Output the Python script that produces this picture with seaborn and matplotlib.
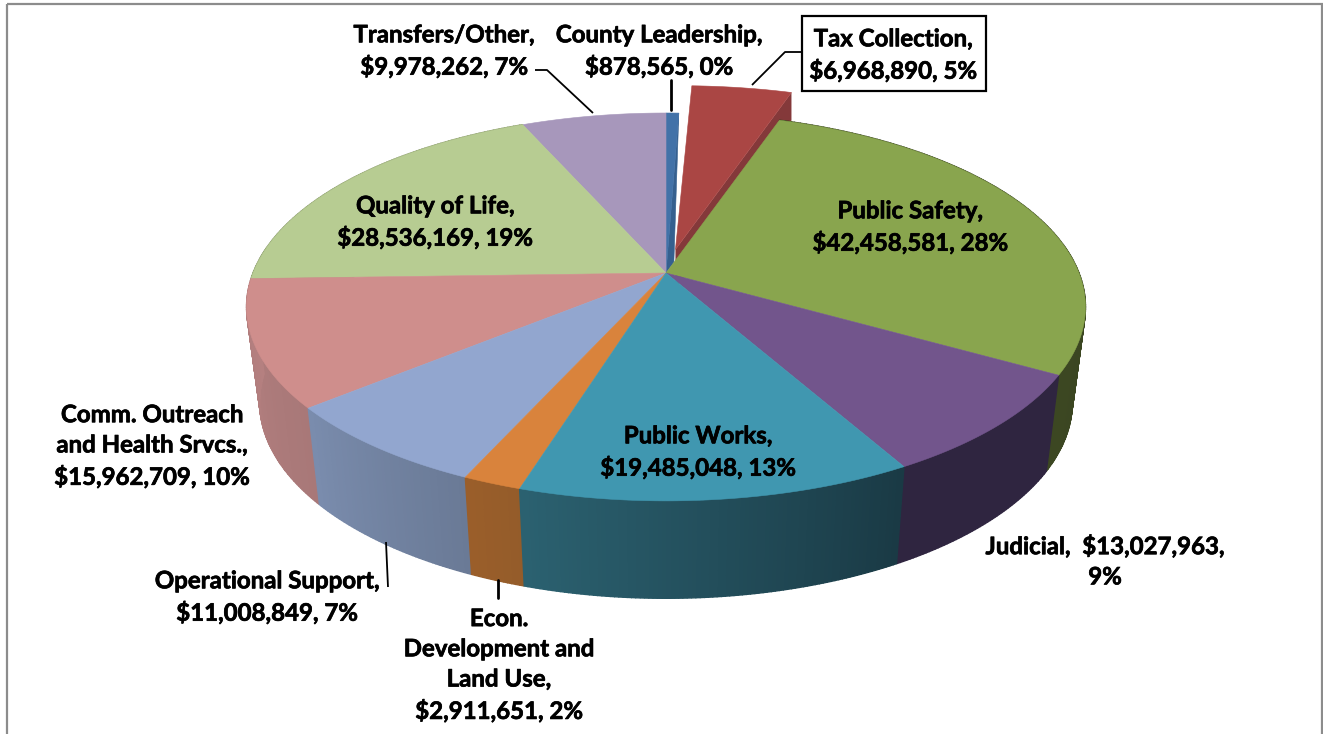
import numpy as np
import matplotlib
matplotlib.use("Agg")
import matplotlib.pyplot as plt
import matplotlib.patheffects as pe
import seaborn as sns
from matplotlib.patches import Rectangle

# slices, clockwise from 12 o'clock
categories = ["County Leadership", "Tax Collection", "Public Safety", "Judicial", "Public Works",
              "Econ. Development and Land Use", "Operational Support",
              "Comm. Outreach and Health Srvcs.", "Quality of Life", "Transfers/Other"]
values = [878565, 6968890, 42458581, 13027963, 19485048, 2911651, 11008849, 15962709, 28536169, 9978262]
percents = [0, 5, 28, 9, 13, 2, 7, 10, 19, 7]

top_colors = ["#4272a8", "#aa4644", "#89a54e", "#72558c", "#4097b0",
              "#d9833c", "#92a6cf", "#cf8e8c", "#b7cc92", "#a797bb"]
wall_left = ["#35608f", "#84393a", "#3c4722", "#2f2540", "#2b6170",
             "#9a5e2a", "#7a8cad", "#b58080", "#8a9a6c", "#7d7190"]
wall_right = ["#35608f", "#84393a", "#353f1d", "#2f2540", "#1a3a45",
              "#945c2a", "#6a7a96", "#a87878", "#8a9a6c", "#7d7190"]

sns.set_theme(style="white")
plt.rcParams["font.family"] = ["Lato", "DejaVu Sans"]

# fake perspective for the pie
cx, cy_top, cy_bot = 666, 273, 368
a_top, a_bot = 413, 400
b_top, b_bot = 188, 190
persp = 0.175
exploded = 1


def project(t, r, off, off_t, a, b, cy):
    X = r * np.sin(t) + off * np.sin(off_t)
    Y = r * np.cos(t) + off * np.cos(off_t)
    d = 1 + persp * Y
    return cx + a * X / d, cy - b * Y / d


fig = plt.figure(figsize=(13.23, 7.34), dpi=100)
ax = fig.add_axes([0, 0, 1, 1])
ax.set_xlim(0, 1323)
ax.set_ylim(734, 0)
ax.axis("off")

ax.add_patch(Rectangle((7, 4), 1315, 760, fill=False, ec="#8c8c8c", lw=1.6, zorder=0))

edges = np.radians(np.cumsum([0] + values) / sum(values) * 360)


def draw_walls(i):
    t0, t1 = edges[i], edges[i + 1]
    ts = np.linspace(t0, t1, max(int(np.degrees(t1 - t0) * 2), 2) + 1)
    c0 = np.array(matplotlib.colors.to_rgb(wall_left[i]))
    c1 = np.array(matplotlib.colors.to_rgb(wall_right[i]))
    for k in range(len(ts) - 1):
        x1, y1 = project(ts[k], 1, 0, 0, a_top, b_top, cy_top)
        x2, y2 = project(ts[k + 1], 1, 0, 0, a_top, b_top, cy_top)
        x3, y3 = project(ts[k + 1], 1, 0, 0, a_bot, b_bot, cy_bot)
        x4, y4 = project(ts[k], 1, 0, 0, a_bot, b_bot, cy_bot)
        # t runs right to left along the front
        f = 1 - k / max(len(ts) - 2, 1)
        col = c0 + (c1 - c0) * f
        ax.fill([x1, x2, x3, x4], [y1, y2, y3, y4], color=col, lw=1.0, ec=col)


def draw_top(i):
    ts = np.linspace(edges[i], edges[i + 1], 120)
    xs, ys = project(ts, 1, 0, 0, a_top, b_top, cy_top)
    ax.fill(np.r_[cx, xs], np.r_[cy_top, ys], color=top_colors[i], lw=0.4, ec=top_colors[i])


def draw_exploded(i):
    t0, t1 = edges[i], edges[i + 1]
    mid = (t0 + t1) / 2
    # rim moves further than the tip, the tip stays close to the centre
    xa, ya = project(t1, 0, 0.13, mid, a_top, b_top, cy_top)
    xb, yb = project(t1, 1, 0.21, mid, a_top + 8, b_top, cy_top)
    xc, yc = project(t1, 1, 0.21, mid, a_top + 8, b_top, cy_top + 28)
    ax.fill([xa, xb, xc, xa], [ya, yb, yc, ya + 40], color=wall_left[i], lw=0)
    ts = np.linspace(t0, t1, 60)
    xs, ys = project(ts, 1, 0.21, mid, a_top + 8, b_top, cy_top)
    ax.fill(np.r_[xa, xs], np.r_[ya, ys], color=top_colors[i], lw=0.4, ec=top_colors[i])


def draw_cut_edge(i):
    # darker sliver along the open side of the slice next to the gap
    t1 = edges[i + 1]
    xb, yb = project(t1, 1, 0, 0, a_top, b_top, cy_top)
    xc, yc = project(t1, 0, 0.06, edges[i + 2], a_top, b_top, cy_top)
    ax.fill([cx, xb, xc], [cy_top, yb, yc], color=wall_left[i], lw=0.4, ec=wall_left[i])


order = [0, 9, 8, 2, 3, 7, 6, 5, 4]
draw_exploded(exploded)
for i in order[2:]:
    draw_walls(i)
draw_cut_edge(0)
for i in order:
    draw_top(i)

# labels
font = dict(fontsize=17.3, fontweight="bold", color="black", ha="center", va="center", linespacing=1.38,
            path_effects=[pe.withStroke(linewidth=0.5, foreground="black")])


def money(i):
    return f"${values[i]:,}, {percents[i]}%"


ax.text(444, 51, "Transfers/Other,\n" + money(9), **font)
ax.text(659, 51, "County Leadership,\n" + money(0), **font)
ax.text(893, 55, "Tax Collection,\n" + money(1), **font)
ax.add_patch(Rectangle((802, 16), 184, 75, fill=False, ec="black", lw=1.6, zorder=5))
ax.text(910, 227, "Public Safety,\n" + money(2), **font)
ax.text(435, 222, "Quality of Life,\n" + money(8), **font)
ax.text(152, 446, "Comm. Outreach\nand Health Srvcs.,\n" + money(7), **font)
ax.text(267, 597, "Operational Support,\n" + money(6), **font)
ax.text(499, 665, "Econ.\nDevelopment and\nLand Use,\n" + money(5), **font)
ax.text(698, 452, "Public Works,\n" + money(4), **font)
ax.text(1105, 561, f"Judicial,  ${values[3]:,},\n{percents[3]}%", **font)

# leader lines
line = dict(color="black", lw=1.3, solid_capstyle="butt")
ax.plot([535, 547, 593], [70, 70, 113], **line)
ax.plot([752, 785, 802], [85, 52, 52], **line)
ax.plot([671, 671], [80, 110], color="black", lw=2)
ax.plot([386, 388], [542, 587], **line)
ax.plot([498, 498], [580, 598], color="black", lw=2)

fig.savefig("out.png", dpi=100)
